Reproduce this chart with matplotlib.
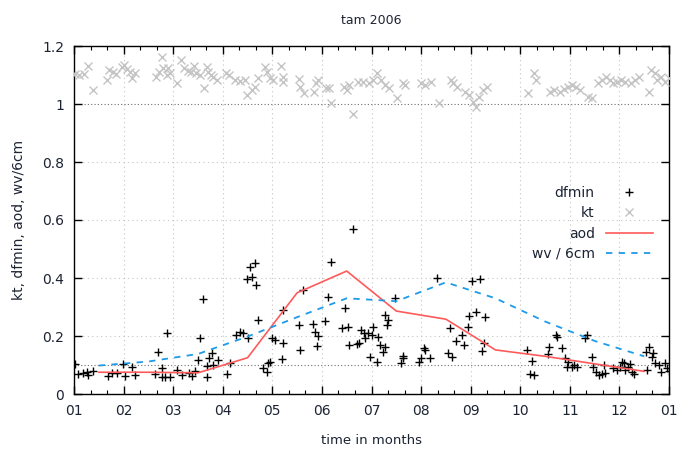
import matplotlib
matplotlib.use("Agg")
import matplotlib.pyplot as plt
from matplotlib.ticker import MultipleLocator

# x is measured in months since 1 Jan (gnuplot-style equal monthly ticks)
month_labels = ["01", "02", "03", "04", "05", "06", "07", "08", "09", "10", "11", "12", "01"]

# monthly means (plotted at mid-month)
mid_month = [0.5, 1.5, 2.5, 3.5, 4.5, 5.5, 6.5, 7.5, 8.5, 9.5, 10.5, 11.5]
aod = [0.075, 0.075, 0.073, 0.125, 0.349, 0.424, 0.286, 0.258, 0.152, 0.130, 0.104, 0.078]
wv6 = [0.098, 0.112, 0.138, 0.198, 0.265, 0.330, 0.320, 0.385, 0.330, 0.250, 0.183, 0.130]

dfmin_month = [0.02, 0.09, 0.18, 0.26, 0.29, 0.39, 0.69, 0.76, 0.86, 0.99,
               1.03, 1.16, 1.23, 1.63, 1.70, 1.77, 1.77, 1.84, 1.87, 1.94,
               2.07, 2.17, 2.31, 2.37, 2.44, 2.51, 2.54, 2.61, 2.68, 2.69,
               2.73, 2.78, 2.81, 2.91, 3.09, 3.15, 3.27, 3.35, 3.41, 3.50,
               3.48, 3.55, 3.65, 3.58, 3.67, 3.72, 3.82, 3.89, 3.92, 3.95,
               3.99, 4.05, 4.19, 4.21, 4.22, 4.56, 4.54, 4.62, 4.83, 4.86,
               4.93, 4.91, 5.06, 5.13, 5.18, 5.40, 5.47, 5.53, 5.55, 5.62,
               5.71, 5.75, 5.78, 5.84, 5.87, 5.92, 5.97, 6.00, 6.04, 6.11,
               6.14, 6.17, 6.24, 6.27, 6.31, 6.34, 6.27, 6.47, 6.59, 6.63,
               6.64, 6.96, 6.99, 7.05, 7.08, 7.18, 7.33, 7.55, 7.62, 7.58,
               7.70, 7.82, 7.87, 7.95, 7.97, 8.02, 8.19, 8.11, 8.29, 8.26,
               8.22, 9.13, 9.23, 9.20, 9.28, 9.57, 9.55, 9.72, 9.74, 9.84,
               9.90, 9.94, 9.97, 10.04, 10.08, 10.14, 10.34, 10.31, 10.44, 10.47,
               10.53, 10.58, 10.64, 10.71, 10.68, 10.88, 10.95, 11.01, 11.05, 11.09,
               11.11, 11.18, 11.21, 11.25, 11.29, 11.55, 11.54, 11.60, 11.65, 11.67,
               11.72, 11.79, 11.83, 11.92, 11.95, 12.00]
dfmin_val = [0.103, 0.069, 0.071, 0.077, 0.066, 0.080, 0.063, 0.074, 0.071, 0.103,
             0.062, 0.092, 0.066, 0.068, 0.146, 0.089, 0.060, 0.058, 0.209, 0.060,
             0.083, 0.066, 0.074, 0.062, 0.080, 0.117, 0.192, 0.327, 0.097, 0.060,
             0.123, 0.140, 0.100, 0.117, 0.069, 0.106, 0.203, 0.215, 0.209, 0.192,
             0.396, 0.439, 0.451, 0.405, 0.376, 0.255, 0.089, 0.077, 0.108, 0.111,
             0.192, 0.186, 0.120, 0.177, 0.290, 0.152, 0.238, 0.359, 0.241, 0.215,
             0.200, 0.166, 0.253, 0.333, 0.456, 0.227, 0.296, 0.232, 0.169, 0.569,
             0.172, 0.175, 0.221, 0.209, 0.192, 0.209, 0.129, 0.203, 0.232, 0.111,
             0.198, 0.169, 0.146, 0.272, 0.238, 0.255, 0.163, 0.330, 0.108, 0.123,
             0.131, 0.111, 0.123, 0.158, 0.152, 0.123, 0.401, 0.140, 0.127, 0.227,
             0.184, 0.203, 0.169, 0.232, 0.269, 0.390, 0.396, 0.284, 0.266, 0.177,
             0.148, 0.152, 0.114, 0.069, 0.066, 0.163, 0.138, 0.203, 0.196, 0.158,
             0.123, 0.094, 0.111, 0.094, 0.100, 0.094, 0.203, 0.192, 0.129, 0.094,
             0.077, 0.066, 0.069, 0.074, 0.100, 0.089, 0.083, 0.094, 0.111, 0.106,
             0.083, 0.094, 0.103, 0.077, 0.068, 0.083, 0.146, 0.161, 0.129, 0.142,
             0.108, 0.100, 0.077, 0.106, 0.089, 0.080]

kt_month = [0.02, 0.11, 0.20, 0.29, 0.38, 0.66, 0.71, 0.79, 0.85, 0.96,
            1.01, 1.06, 1.13, 1.16, 1.23, 1.65, 1.72, 1.77, 1.80, 1.87,
            1.90, 1.94, 2.07, 2.15, 2.22, 2.29, 2.35, 2.42, 2.47, 2.54,
            2.62, 2.68, 2.71, 2.76, 2.81, 2.88, 3.07, 3.13, 3.25, 3.35,
            3.45, 3.48, 3.58, 3.65, 3.72, 3.85, 3.90, 3.95, 4.02, 4.18,
            4.21, 4.22, 4.54, 4.56, 4.64, 4.84, 4.88, 4.93, 5.08, 5.15,
            5.18, 5.45, 5.51, 5.55, 5.63, 5.73, 5.83, 5.94, 6.04, 6.12,
            6.20, 6.28, 6.36, 6.52, 6.64, 6.68, 7.00, 7.08, 7.20, 7.36,
            7.60, 7.64, 7.72, 7.88, 7.96, 8.04, 8.10, 8.16, 8.24, 8.32,
            9.16, 9.28, 9.32, 9.60, 9.68, 9.80, 9.88, 9.96, 10.04, 10.12,
            10.20, 10.36, 10.44, 10.56, 10.64, 10.72, 10.80, 10.88, 10.96, 11.04,
            11.12, 11.24, 11.32, 11.40, 11.60, 11.64, 11.72, 11.76, 11.84, 11.92,
            12.00]
kt_val = [1.103, 1.100, 1.103, 1.131, 1.048, 1.083, 1.117, 1.111, 1.103, 1.129,
          1.134, 1.120, 1.111, 1.089, 1.106, 1.094, 1.111, 1.163, 1.123, 1.100,
          1.123, 1.106, 1.071, 1.152, 1.123, 1.115, 1.111, 1.131, 1.106, 1.100,
          1.054, 1.129, 1.111, 1.100, 1.094, 1.083, 1.108, 1.100, 1.083, 1.080,
          1.083, 1.031, 1.048, 1.060, 1.089, 1.127, 1.111, 1.089, 1.083, 1.131,
          1.094, 1.077, 1.085, 1.060, 1.039, 1.042, 1.071, 1.083, 1.054, 1.054,
          1.004, 1.060, 1.048, 1.066, 0.966, 1.077, 1.077, 1.071, 1.083, 1.106,
          1.083, 1.066, 1.054, 1.020, 1.071, 1.066, 1.071, 1.066, 1.077, 1.005,
          1.083, 1.071, 1.060, 1.043, 1.031, 1.008, 0.991, 1.025, 1.048, 1.060,
          1.037, 1.106, 1.083, 1.043, 1.048, 1.043, 1.051, 1.060, 1.066, 1.060,
          1.048, 1.025, 1.020, 1.071, 1.083, 1.094, 1.083, 1.071, 1.077, 1.083,
          1.077, 1.071, 1.083, 1.094, 1.043, 1.117, 1.106, 1.083, 1.094, 1.077,
          1.089]

text_col = "#1c2333"

fig = plt.figure(figsize=(6.78, 4.49), dpi=100)
ax = fig.add_axes([74 / 678, 1 - 394 / 449, 595 / 678, 348 / 449])

# reference lines and grid
for yv in [0.2, 0.4, 0.6, 0.8]:
    ax.axhline(yv, color="#c4c4c4", lw=0.8, ls=(0, (1, 3)), zorder=0)
for m in range(1, 12):
    ax.axvline(m, color="#c4c4c4", lw=0.8, ls=(0, (1, 3)), zorder=0)
ax.axhline(1.0, color="#707070", lw=0.8, ls=(0, (1, 2)), zorder=1)
ax.axhline(0.1, color="#707070", lw=0.8, ls=(0, (1, 2)), zorder=1)

ax.plot(dfmin_month, dfmin_val, "+", color="black", ms=6, mew=1.0, label="dfmin", zorder=4)
ax.plot(kt_month, kt_val, "x", color="#c4c4c4", ms=5.5, mew=1.0, label="kt", zorder=3)
ax.plot(mid_month, aod, color="#ff5a5a", lw=1.2, label="aod", zorder=5)
ax.plot(mid_month, wv6, color="#1e9be8", lw=1.3, ls=(0, (3.5, 3.5)), label="wv / 6cm", zorder=5)

ax.set_xlim(0, 12)
ax.set_ylim(0, 1.2)
ax.set_xticks(range(13))
ax.set_xticklabels(month_labels)
ax.xaxis.set_minor_locator(MultipleLocator(1 / 3))
ax.set_yticks([0, 0.2, 0.4, 0.6, 0.8, 1.0, 1.2])
ax.set_yticklabels(["0", "0.2", "0.4", "0.6", "0.8", "1", "1.2"])
ax.tick_params(which="both", direction="in", top=True, right=True,
               labelsize=10, colors="black", labelcolor=text_col)
ax.tick_params(which="major", length=6, width=1.0, pad=7)
ax.tick_params(which="minor", length=3, width=0.8)
for s in ax.spines.values():
    s.set_linewidth(1.0)

ax.set_title("tam 2006", fontsize=9, color=text_col, pad=16)
ax.set_xlabel("time in months", fontsize=9.5, color=text_col, labelpad=12)
ax.set_ylabel("kt, dfmin, aod, wv/6cm", fontsize=10, color=text_col, labelpad=12)

leg = ax.legend(loc="upper right", bbox_to_anchor=(653 / 678, 1 - 186 / 449),
                bbox_transform=fig.transFigure, frameon=False, markerfirst=False,
                fontsize=10, handlelength=3.4, handletextpad=0.8,
                labelspacing=0.45, borderpad=0, borderaxespad=0)
for t in leg.get_texts():
    t.set_color(text_col)

fig.savefig("out.png", dpi=100)
